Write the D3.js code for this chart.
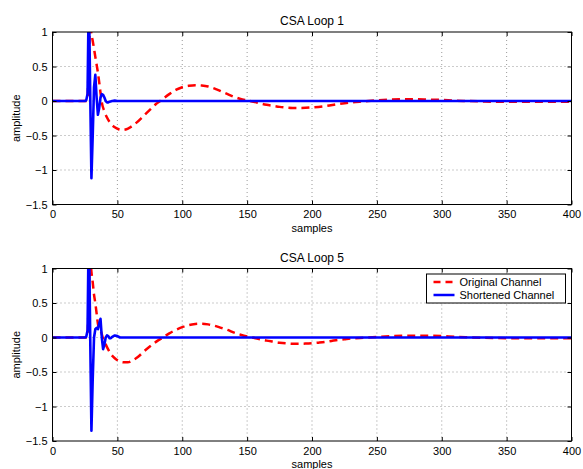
<!DOCTYPE html>
<html>
<head>
<meta charset="utf-8">
<script src="https://cdn.jsdelivr.net/npm/d3@7"></script>
<style>
  body { margin: 0; background: #fff; }
  text { font-family: "Liberation Sans", Arial, sans-serif; fill: #000; }
</style>
</head>
<body>
<div id="chart"></div>
<script>
// ---- data ----
var titles = ["CSA Loop 1", "CSA Loop 5"];
var xTicks = [0, 50, 100, 150, 200, 250, 300, 350, 400];
var yTicks = [-1.5, -1, -0.5, 0, 0.5, 1];
var legendLabels = ["Original Channel", "Shortened Channel"];

var origX1 = [0, 10, 20, 25, 26, 27, 28, 29, 30, 31, 32, 33, 34, 35, 36, 37, 38, 40, 42, 45, 48, 51, 54, 57, 60, 65, 70, 75, 80, 83, 85, 90, 95, 100, 105, 110, 115, 120, 125, 130, 135, 140, 145, 150, 155, 160, 165, 170, 175, 180, 185, 190, 195, 200, 210, 220, 230, 240, 250, 260, 270, 280, 290, 300, 310, 320, 330, 340, 360, 380, 400];
var origY1 = [0, 0, 0, 0, 0, 0.05, 0.6, 1.15, 0.97, 0.87, 0.76, 0.64, 0.53, 0.41, 0.27, 0.12, -0.02, -0.15, -0.24, -0.33, -0.38, -0.41, -0.42, -0.41, -0.38, -0.31, -0.22, -0.13, -0.04, 0, 0.03, 0.1, 0.16, 0.2, 0.22, 0.23, 0.225, 0.21, 0.18, 0.14, 0.1, 0.06, 0.03, 0.01, -0.01, -0.035, -0.055, -0.07, -0.085, -0.095, -0.1, -0.1, -0.098, -0.093, -0.075, -0.045, -0.02, -0.005, 0.01, 0.02, 0.025, 0.025, 0.02, 0.015, 0.005, 0, -0.005, -0.01, -0.01, -0.01, -0.01];
var shortX1 = [0, 25, 26, 27, 28, 29, 30, 31, 32, 33, 34, 35, 36, 37, 38, 39, 40, 41, 42, 43, 44, 46, 48, 50, 400];
var shortY1 = [0, 0, 0.01, 0.1, 1.6, 0.2, -1.12, -0.5, 0.2, 0.38, 0.05, -0.2, -0.1, 0.05, 0.1, 0.09, 0.05, 0, -0.02, -0.02, -0.01, 0, 0.005, 0, 0];

var origX5 = [0, 10, 20, 25, 26, 27, 28, 29, 30, 31, 32, 33, 34, 35, 36, 37, 38, 39, 40, 42, 45, 48, 51, 55, 58, 62, 66, 70, 75, 80, 85, 90, 95, 100, 105, 110, 115, 120, 125, 130, 135, 140, 145, 150, 155, 160, 165, 170, 175, 180, 185, 190, 195, 200, 205, 210, 215, 220, 225, 230, 240, 250, 260, 270, 280, 290, 300, 310, 320, 330, 340, 360, 380, 400];
var origY5 = [0, 0, 0, 0, 0, 0.05, 0.6, 1.2, 0.95, 0.8, 0.62, 0.5, 0.35, 0.2, 0.13, 0.1, 0.05, -0.02, -0.06, -0.14, -0.24, -0.3, -0.34, -0.36, -0.36, -0.33, -0.28, -0.21, -0.13, -0.06, 0, 0.06, 0.11, 0.15, 0.18, 0.195, 0.2, 0.19, 0.17, 0.14, 0.11, 0.07, 0.04, 0.015, -0.005, -0.025, -0.045, -0.06, -0.075, -0.085, -0.09, -0.09, -0.088, -0.083, -0.075, -0.065, -0.05, -0.035, -0.025, -0.015, -0.003, 0.008, 0.018, 0.025, 0.025, 0.025, 0.02, 0.01, 0.003, -0.003, -0.007, -0.01, -0.01, -0.01];
var shortX5 = [0, 25, 26, 27, 28, 29, 30, 31, 32, 33, 34, 35, 36, 37, 38, 39, 40, 41, 42, 43, 44, 45, 46, 48, 50, 52, 400];
var shortY5 = [0, 0, 0.01, 0.1, 1.7, 0.1, -1.35, -0.6, 0, 0.12, 0.14, 0.12, 0.2, 0.27, 0, -0.17, -0.1, 0, 0.03, 0.02, -0.01, -0.01, 0.01, 0.03, 0.02, 0, 0];

var panels = [
  { title: titles[0], top: 32, orig: [origX1, origY1], short: [shortX1, shortY1], legend: false },
  { title: titles[1], top: 268.5, orig: [origX5, origY5], short: [shortX5, shortY5], legend: true }
];

var width = 583, height = 469;
var left = 52.5, right = 571.5, plotH = 172.5;

var svg = d3.select("#chart").append("svg")
    .attr("width", width)
    .attr("height", height);

var x = d3.scaleLinear().domain([0, 400]).range([left, right]);

panels.forEach(function(p, i) {
    var y = d3.scaleLinear().domain([-1.5, 1]).range([p.top + plotH, p.top]);
    var g = svg.append("g");

    // grid
    g.selectAll(".gx").data(xTicks.slice(1, -1)).enter().append("line")
        .attr("x1", d => x(d)).attr("x2", d => x(d))
        .attr("y1", p.top).attr("y2", p.top + plotH)
        .attr("stroke", "#555").attr("stroke-width", 0.6)
        .attr("stroke-dasharray", "1,3");
    g.selectAll(".gy").data(yTicks.slice(1, -1)).enter().append("line")
        .attr("y1", d => y(d)).attr("y2", d => y(d))
        .attr("x1", left).attr("x2", right)
        .attr("stroke", "#555").attr("stroke-width", 0.6)
        .attr("stroke-dasharray", "1,3");

    var clipId = "clip" + i;
    svg.append("clipPath").attr("id", clipId).append("rect")
        .attr("x", left).attr("y", p.top).attr("width", right - left).attr("height", plotH);

    var lineOrig = d3.line().x(d => x(d[0])).y(d => y(d[1])).curve(d3.curveMonotoneX);
    var lineShort = d3.line().x(d => x(d[0])).y(d => y(d[1]));

    var origData = p.orig[0].map((v, k) => [v, p.orig[1][k]]);
    var shortData = p.short[0].map((v, k) => [v, p.short[1][k]]);

    var lines = g.append("g").attr("clip-path", "url(#" + clipId + ")");
    lines.append("path").datum(origData)
        .attr("d", lineOrig).attr("fill", "none")
        .attr("stroke", "#ff0000").attr("stroke-width", 2.5)
        .attr("stroke-dasharray", "8,5");
    lines.append("path").datum(shortData)
        .attr("d", lineShort).attr("fill", "none")
        .attr("stroke", "#0000ff").attr("stroke-width", 2.6)
        .attr("stroke-linejoin", "round");

    // axes (ticks inside, matlab style)
    g.append("g").attr("transform", "translate(0," + (p.top + plotH) + ")")
        .call(d3.axisBottom(x).tickValues(xTicks).tickSizeInner(-4).tickSizeOuter(0).tickPadding(6))
        .call(a => a.select(".domain").remove());
    g.append("g").attr("transform", "translate(0," + p.top + ")")
        .call(d3.axisTop(x).tickValues(xTicks).tickSizeInner(-4).tickSizeOuter(0).tickFormat(""))
        .call(a => a.select(".domain").remove());
    g.append("g").attr("transform", "translate(" + left + ",0)")
        .call(d3.axisLeft(y).tickValues(yTicks).tickSizeInner(-4).tickSizeOuter(0).tickPadding(5)
            .tickFormat(d => d3.format("")(d).replace("-", "\u2212")))
        .call(a => a.select(".domain").remove());
    g.append("g").attr("transform", "translate(" + right + ",0)")
        .call(d3.axisRight(y).tickValues(yTicks).tickSizeInner(-4).tickSizeOuter(0).tickFormat(""))
        .call(a => a.select(".domain").remove());
    g.selectAll(".tick line").attr("stroke", "#000");
    g.selectAll(".tick text").attr("font-size", 11).attr("font-family", "Liberation Sans, Arial, sans-serif");

    g.append("rect").attr("x", left).attr("y", p.top)
        .attr("width", right - left).attr("height", plotH)
        .attr("fill", "none").attr("stroke", "#000").attr("stroke-width", 1);

    g.append("text").attr("x", (left + right) / 2).attr("y", p.top - 7)
        .attr("text-anchor", "middle").attr("font-size", 12).text(p.title);
    g.append("text").attr("x", (left + right) / 2).attr("y", p.top + plotH + 27)
        .attr("text-anchor", "middle").attr("font-size", 11).text("samples");
    g.append("text")
        .attr("transform", "translate(20," + (p.top + plotH / 2) + ") rotate(-90)")
        .attr("text-anchor", "middle").attr("font-size", 11).text("amplitude");

    if (p.legend) {
        var lx = 426.5, ly = 274, lw = 139, lh = 29;
        var lg = g.append("g");
        lg.append("rect").attr("x", lx).attr("y", ly).attr("width", lw).attr("height", lh)
            .attr("fill", "#fff").attr("stroke", "#000").attr("stroke-width", 1);
        var colors = ["#ff0000", "#0000ff"];
        var dashes = ["7,5", null];
        legendLabels.forEach(function(lbl, k) {
            var yy = ly + 8 + k * 13;
            lg.append("line").attr("x1", lx + 7).attr("x2", lx + 28)
                .attr("y1", yy).attr("y2", yy)
                .attr("stroke", colors[k]).attr("stroke-width", 2.5)
                .attr("stroke-dasharray", dashes[k]);
            lg.append("text").attr("x", lx + 33).attr("y", yy + 4)
                .attr("font-size", 11).text(lbl);
        });
    }
});
</script>
</body>
</html>
